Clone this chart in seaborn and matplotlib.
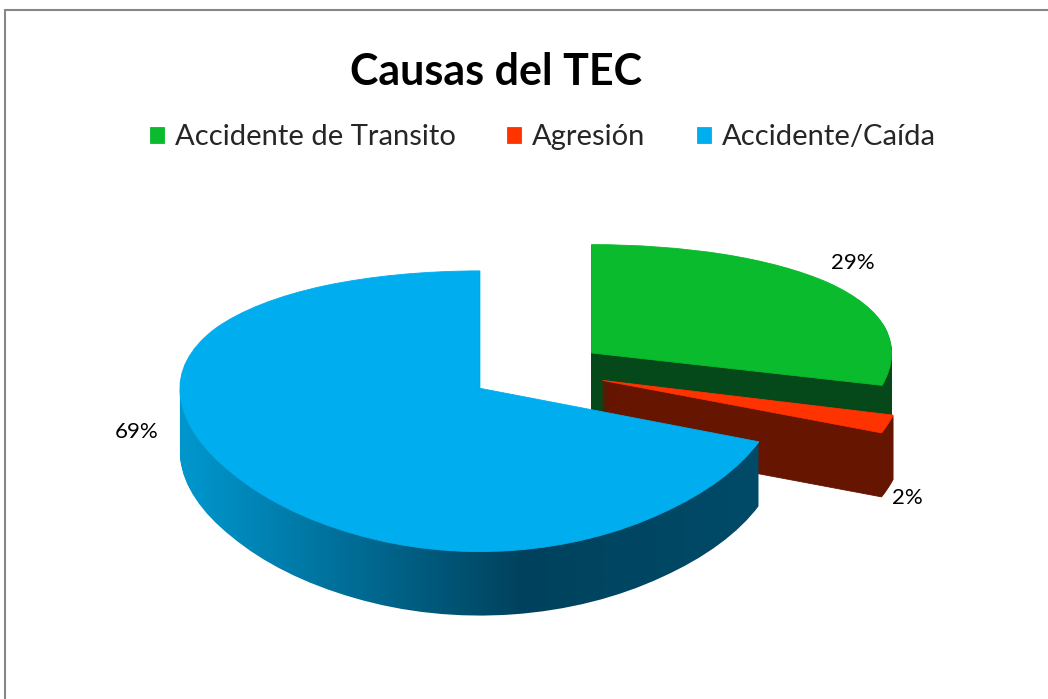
import numpy as np
import matplotlib
matplotlib.use("Agg")
import matplotlib.pyplot as plt
import seaborn as sns
from matplotlib.colors import LinearSegmentedColormap
from matplotlib.patches import Rectangle
from matplotlib.transforms import Affine2D

# datos del grafico
causas = ["Accidente de Transito", "Agresión", "Accidente/Caída"]
porcentajes = [29, 2, 69]
etiquetas = ["29%", "2%", "69%"]
color_top = ["#09bb2d", "#ff3300", "#00aeef"]
color_lado = ["#05491a", "#661500", "#00607f"]
separacion = [0.23, 0.23, 0.23]

sns.set_theme(style="white")
plt.rcParams['font.family'] = ['Lato', 'DejaVu Sans']

W, H = 1048, 699
fig = plt.figure(figsize=(W / 100, H / 100), dpi=100)
ax = fig.add_axes([0, 0, 1, 1])

# geometria: centro en pixeles, radio horizontal, escala vertical y grosor (px)
cx, cy = 537, 371
rx, sy = 300, 131
grosor_px = 64
n_capas = 64
b = 0.16  # perspectiva: el fondo se ve mas chico que el frente


def fwd(y):
    y = np.asarray(y, dtype=float)
    return y / (1 + b * y)


def inv(f):
    f = np.asarray(f, dtype=float)
    return f / (1 - b * f)


ax.set_yscale('function', functions=(fwd, inv))

# orden de dibujo: verde atras, rojo, azul adelante
orden = [0, 1, 2]

grad = np.linspace(0, 1, 1024).reshape(1, -1)
cmap_lado = LinearSegmentedColormap.from_list(
    "lado", [(0.0, "#0098cf"), (0.05, "#0094ca"), (0.57, "#00425d"), (1.0, "#004c6a")])
gx0, gx1 = -1.25, 0.85

desplaz = np.linspace(grosor_px, 0, n_capas + 1)
top_wedges = None
for i, d in enumerate(desplaz):
    es_top = i == n_capas
    wedges, _ = ax.pie(porcentajes, explode=separacion, startangle=90, counterclock=False,
                       colors=color_top if es_top else color_lado,
                       wedgeprops=dict(linewidth=0.6))
    for j, w in enumerate(wedges):
        w.set_edgecolor(w.get_facecolor())
        w.set_transform(ax.transData + Affine2D().translate(0, -d))
        z = 10 + orden[j] * 200 + i
        w.set_zorder(z)
        if j == 2 and not es_top:
            # lado azul con degradado horizontal
            w.set_facecolor('none')
            w.set_edgecolor('none')
            w.set_linewidth(0)
            im = ax.imshow(grad, extent=(gx0, gx1, -1.7, 1.7), cmap=cmap_lado,
                           aspect='auto', zorder=z + 0.5, interpolation='bilinear')
            im.set_clip_path(w)
    if es_top:
        top_wedges = wedges

ax.set_aspect('auto')
ax.set_xlim(-cx / rx, (W - cx) / rx)
ax.set_ylim(float(inv((cy - H) / sy)), float(inv(cy / sy)))
ax.axis('off')

# etiquetas de porcentaje
pos_etq = [(853, 263), (907, 498), (137, 432)]
for txt, (px, py) in zip(etiquetas, pos_etq):
    fig.text(px / W, 1 - py / H, txt, ha='center', va='center', fontsize=16, color='black')

fig.text(496 / W, 1 - 72 / H, "Causas del TEC", ha='center', va='center',
         fontsize=31, fontweight='bold', color='black')

fig.legend(top_wedges, causas, loc='center', bbox_to_anchor=(543 / W, 1 - 137 / H),
           ncol=3, frameon=False, fontsize=21, handlelength=0.48, handleheight=0.48,
           handletextpad=0.38, columnspacing=1.75)

# borde del area del grafico
fig.add_artist(Rectangle((5 / W, -0.1), 1.2, 1.1 - 10 / H, transform=fig.transFigure,
                         fill=False, edgecolor='#878787', linewidth=1.5, clip_on=False))

fig.savefig("out.png", dpi=100)
